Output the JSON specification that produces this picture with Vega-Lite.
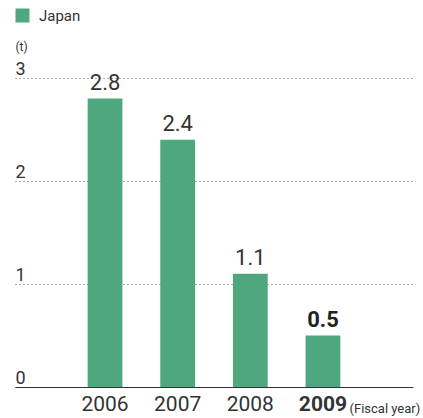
{
  "$schema": "https://vega.github.io/schema/vega-lite/v6.json",
  "autosize": "none",
  "width": 398,
  "height": 309,
  "padding": {"left": 15, "top": 78, "right": 10, "bottom": 31},
  "background": "white",
  "config": {
    "view": {"stroke": null},
    "font": "Roboto, Liberation Sans",
    "legend": {"labelFontSize": 15, "symbolSize": 196}
  },
  "data": {
    "values": [
      {"year": "2006", "value": 2.8, "series": "Japan", "bold": false},
      {"year": "2007", "value": 2.4, "series": "Japan", "bold": false},
      {"year": "2008", "value": 1.1, "series": "Japan", "bold": false},
      {"year": "2009", "value": 0.5, "series": "Japan", "bold": true}
    ]
  },
  "encoding": {
    "x": {
      "field": "year",
      "type": "nominal",
      "sort": null,
      "scale": {"paddingInner": 0.521, "paddingOuter": 1.06},
      "axis": {
        "title": "(Fiscal year)",
        "titleFontSize": 13,
        "titleFontWeight": "normal",
        "titleColor": "#333333",
        "titleAlign": "left",
        "titleAnchor": null,
        "titleX": 334,
        "titleY": 25,
        "titleBaseline": "alphabetic",
        "labelAngle": 0,
        "labelFontSize": 21,
        "labelColor": "#333333",
        "labelPadding": 6,
        "labelFontWeight": {"condition": {"test": "datum.value == '2009'", "value": "bold"}, "value": "normal"},
        "ticks": false,
        "domainColor": "#333333",
        "domainWidth": 1.2
      }
    }
  },
  "layer": [
    {
      "mark": {"type": "bar"},
      "encoding": {
        "y": {
          "field": "value",
          "type": "quantitative",
          "scale": {"domain": [0, 3]},
          "axis": {
            "title": "(t)",
            "titleAngle": 0,
            "titleAlign": "left",
            "titleBaseline": "alphabetic",
            "titleX": 0,
            "titleY": -28,
            "titleFontSize": 12,
            "titleFontWeight": "normal",
            "titleColor": "#333333",
            "values": [0, 1, 2, 3],
            "format": "d",
            "labelAlign": "left",
            "labelBaseline": "alphabetic",
            "labelOffset": -4,
            "labelPadding": 0,
            "labelFontSize": 18,
            "labelColor": "#333333",
            "ticks": false,
            "domain": false,
            "grid": true,
            "gridColor": "#555555",
            "gridDash": [1, 3],
            "gridWidth": 1
          }
        },
        "color": {
          "field": "series",
          "type": "nominal",
          "scale": {"range": ["#4fa77f"]},
          "legend": {
            "title": null,
            "orient": "none",
            "legendX": 0,
            "legendY": -70,
            "symbolType": "square",
            "symbolSize": 196,
            "symbolStrokeWidth": 0,
            "symbolOpacity": 1,
            "labelFontSize": 15,
            "labelColor": "#333333",
            "labelOffset": 9,
            "padding": 0
          }
        }
      }
    },
    {
      "transform": [{"filter": "!datum.bold"}],
      "mark": {"type": "text", "baseline": "alphabetic", "dy": -9, "fontSize": 22, "color": "#333333"},
      "encoding": {
        "y": {"field": "value", "type": "quantitative"},
        "text": {"field": "value", "type": "quantitative", "format": ".1f"}
      }
    },
    {
      "transform": [{"filter": "datum.bold"}],
      "mark": {"type": "text", "baseline": "alphabetic", "dy": -9, "fontSize": 22, "fontWeight": "bold", "color": "#222222"},
      "encoding": {
        "y": {"field": "value", "type": "quantitative"},
        "text": {"field": "value", "type": "quantitative", "format": ".1f"}
      }
    }
  ]
}
